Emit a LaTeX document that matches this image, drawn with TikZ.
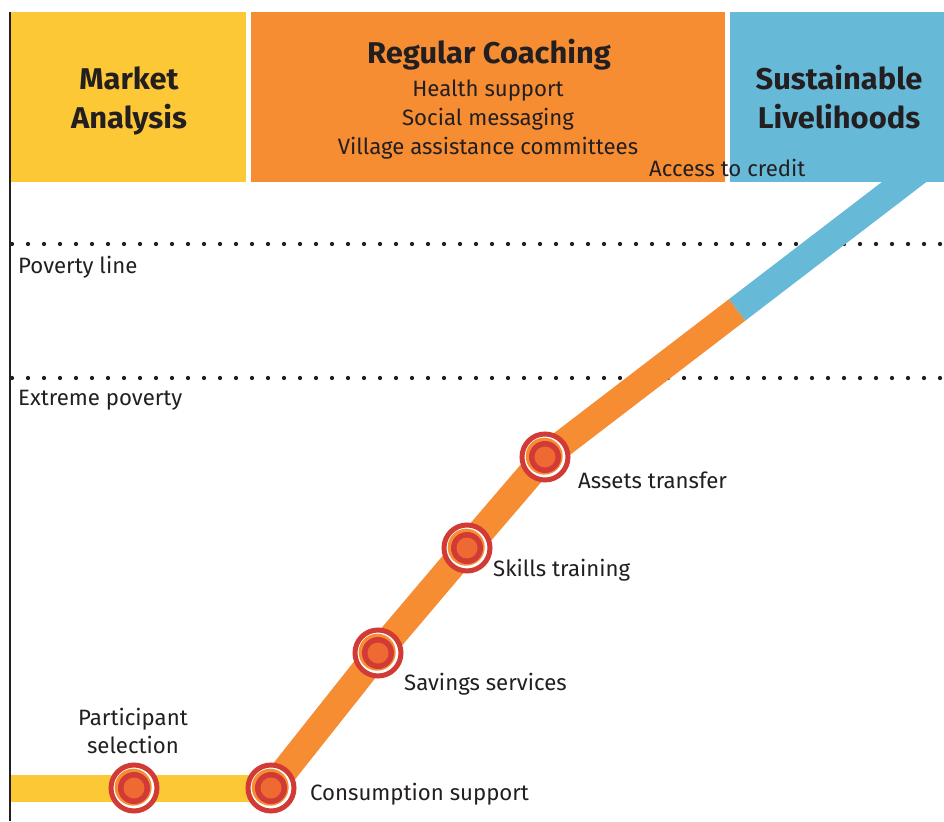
\documentclass[tikz,border=0pt]{standalone}
\usepackage{fontspec}
\setmainfont{Fira Sans}
\newfontfamily\titlefont[FakeStretch=1.03]{Fira Sans Bold}
\definecolor{cyellow}{HTML}{FDC835}
\definecolor{corange}{HTML}{F68D33}
\definecolor{cblue}{HTML}{67B9D8}
\definecolor{cred}{HTML}{D13A35}
\definecolor{cinner}{HTML}{EF6A33}
\definecolor{ctext}{HTML}{231F20}
\begin{document}
\begin{tikzpicture}[x=1pt,y=-1pt,
  title/.style={text=ctext,font=\titlefont\fontsize{30}{34}\selectfont,inner sep=0pt,anchor=base},
  body/.style={text=ctext,font=\fontsize{22.2}{26}\selectfont,inner sep=0pt,anchor=base},
  lab/.style={text=ctext,font=\fontsize{22.2}{26}\selectfont,inner sep=0pt,anchor=base west},
  band/.style={line width=27pt},
  dotline/.style={line width=4.3pt,line cap=round,dash pattern=on 0pt off 16pt,color=ctext},
  milestone/.style={circle,minimum size=54pt,inner sep=0pt,
    path picture={
      \fill[white] (path picture bounding box.center) circle (21pt);
      \draw[cred,line width=5pt] (path picture bounding box.center) circle (23pt);
      \fill[corange] ([shift={(-0.8pt,0.8pt)}]path picture bounding box.center) circle (18.5pt);
      \fill[cred] (path picture bounding box.center) circle (16pt);
      \fill[cinner] (path picture bounding box.center) circle (10.5pt);
    }}]
\useasboundingbox (0,0) rectangle (944,821);
\fill[white] (0,0) rectangle (944,821);
% coordinates of the path
\coordinate (p0) at (10,788);
\coordinate (p1) at (134,788);
\coordinate (p2) at (271,788);
\coordinate (p3) at (378,653);
\coordinate (p4) at (467,548);
\coordinate (p5) at (545,457);
\coordinate (p6) at (737,310);
\coordinate (p7) at (925,166);
% dotted lines
\coordinate (d1a) at (12,244);
\coordinate (d1b) at (944,244);
\coordinate (d2a) at (12,378);
\coordinate (d2b) at (944,378);
\draw[dotline] (d1a) -- (d1b);
\draw[dotline] (d2a) -- (d2b);
% bands
\draw[band,cblue] (p6) -- (p7);
\draw[band,corange,line join=miter] (p2) -- (p3) -- (p4) -- (p5) -- (p6);
\draw[band,cyellow] (p0) -- (p2);
% boxes
\fill[cyellow] (10,12) rectangle (246,182);
\fill[corange] (251,12) rectangle (725,182);
\fill[cblue] (730,12) rectangle (944,182);
% axis
\coordinate (ax0) at (10,12);
\coordinate (ax1) at (10,821);
\draw[ctext,line width=2.5pt] (ax0) -- (ax1);
% box texts
\node[title] (ma1) at (129,90) {Market};
\node[title] (ma2) at (129,129) {Analysis};
\node[title] (rc) at (489,64) {Regular Coaching};
\node[body] (hs) at (488,97) {Health support};
\node[body] (sm) at (488,126) {Social messaging};
\node[body] (va) at (488,155) {Village assistance committees};
\node[lab] (ac) at (649,177) {Access to credit};
\node[title] (sl1) at (839,90) {Sustainable};
\node[title] (sl2) at (839,129) {Livelihoods};
% level labels
\node[lab] (pl) at (18,273) {Poverty line};
\node[lab] (ep) at (18,405) {Extreme poverty};
% milestones
\node[milestone] (m1) at (p1) {};
\node[milestone] (m2) at (p2) {};
\node[milestone] (m3) at (p3) {};
\node[milestone] (m4) at (p4) {};
\node[milestone] (m5) at (p5) {};
% milestone labels
\node[body] (l1a) at (133,725) {Participant};
\node[body] (l1b) at (133,753) {selection};
\node[lab] (l2) at (310,800) {Consumption support};
\node[lab] (l3) at (404,690) {Savings services};
\node[lab] (l4) at (493,576) {Skills training};
\node[lab] (l5) at (578,488) {Assets transfer};
\end{tikzpicture}
\end{document}
